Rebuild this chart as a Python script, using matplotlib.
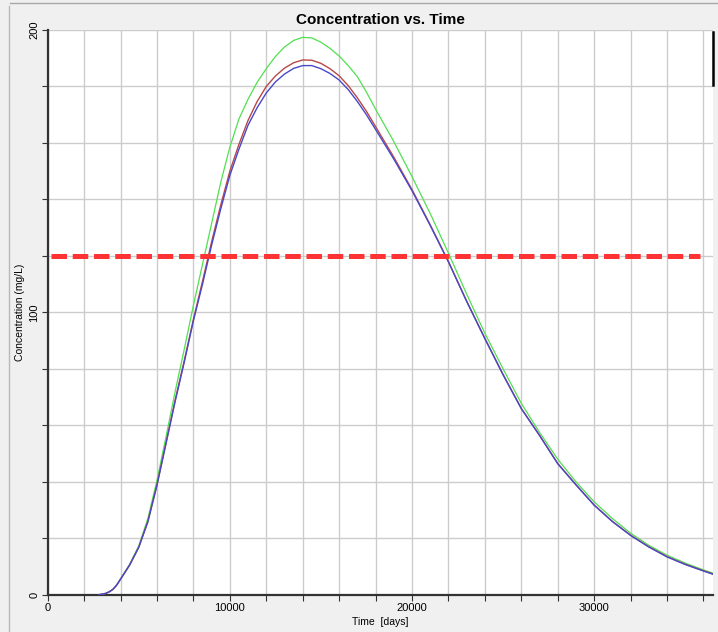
import numpy as np
import matplotlib.pyplot as plt
from matplotlib.lines import Line2D
from matplotlib.ticker import MultipleLocator

plt.rcParams['font.family'] = ['Liberation Sans', 'DejaVu Sans']

# simulated concentration at the observation point, three realizations
time_days = [2800, 3000, 3200, 3400, 3600, 3800, 4000, 4500, 5000, 5500, 6000,
             6500, 7000, 7500, 8000, 8500, 9000, 9500, 10000, 10500, 11000,
             11500, 12000, 12500, 13000, 13500, 14000, 14500, 15000, 15500,
             16000, 16500, 17000, 17500, 18000, 19000, 20000, 21000, 22000,
             23000, 24000, 25000, 26000, 27000, 28000, 29000, 30000, 31000,
             32000, 33000, 34000, 35000, 36000, 36500]

conc_red = [0, 0.2, 0.5, 1.1, 2, 3.5, 5.5, 10.5, 16.8, 26, 39,
            54, 69, 83, 97.5, 111, 125, 138, 150, 159.5, 168,
            174.7, 180, 183.7, 186.5, 188.4, 189.4, 189.3, 188.2, 186.3,
            183.8, 180.3, 176, 171.2, 165.8, 155, 143.5, 131, 118,
            104, 90.8, 78, 66, 56.5, 46.5, 39, 31.8, 26,
            21.1, 17, 13.5, 10.8, 8.5, 7.4]

conc_blue = [0, 0.2, 0.5, 1.1, 2, 3.5, 5.5, 10.5, 16.8, 25.8, 38.7,
             53.6, 68.5, 82.4, 97, 110, 123.8, 136.6, 148.5, 157.8, 166.3,
             172.5, 177.7, 181.6, 184.4, 186.4, 187.4, 187.4, 186.3, 184.6,
             182.3, 178.9, 174.7, 170, 164.8, 154.3, 143.1, 130.8, 117.9,
             103.9, 90.7, 77.9, 65.9, 56.4, 46.4, 38.9, 31.7, 25.9,
             21, 16.9, 13.4, 10.7, 8.4, 7.3]

conc_green = [0, 0.2, 0.5, 1.1, 2, 3.6, 5.6, 10.8, 17.3, 27, 40.5,
              56, 72, 87, 102.5, 117, 131.5, 146, 158.5, 168.5, 175.5,
              181.5, 186.3, 190.6, 194, 196.3, 197.4, 197.2, 195.7, 193.5,
              190.8, 187.4, 183.5, 178, 172, 160.5, 148.1, 135, 121,
              106.5, 92.6, 80, 67.8, 57.5, 48, 40, 32.9, 27,
              21.8, 17.5, 14, 11.2, 8.8, 7.7]

limit_level = 120
limit_span = [200, 35800]

fig = plt.figure(figsize=(7.18, 6.32), dpi=100, facecolor='#f0f0f0')
ax = fig.add_axes([0.0664, 0.059, 0.926, 0.8935])
ax.set_facecolor('white')

ax.plot(time_days, conc_green, color='#50e050', lw=0.9, zorder=3)
ax.plot(time_days, conc_red, color='#b84848', lw=1.0, zorder=4)
ax.plot(time_days, conc_blue, color='#4848c8', lw=1.0, zorder=5)
ax.plot(limit_span, [limit_level, limit_level], color='#ff3333', lw=3.6,
        linestyle=(0, (3.1, 1.15)), solid_capstyle='butt', dash_capstyle='butt',
        zorder=6)

ax.set_xlim(0, 36500)
ax.set_ylim(0, 200)

ax.xaxis.set_major_locator(MultipleLocator(10000))
ax.xaxis.set_minor_locator(MultipleLocator(2000))
ax.yaxis.set_major_locator(MultipleLocator(100))
ax.yaxis.set_minor_locator(MultipleLocator(20))

ax.grid(which='both', color='#cccccc', lw=1.0, zorder=1)
ax.set_axisbelow(True)

ax.tick_params(which='both', direction='out', length=4, width=0.8,
               color='#333333', labelsize=8, pad=2)
for lbl in ax.get_yticklabels():
    lbl.set_rotation(90)
    lbl.set_va('center')

for side in ['top', 'right']:
    ax.spines[side].set_visible(False)
for side in ['left', 'bottom']:
    ax.spines[side].set_color('#333333')
    ax.spines[side].set_linewidth(1.6)

ax.set_title('Concentration vs. Time', fontsize=11, fontweight='bold', pad=4)
ax.set_xlabel('Time  [days]', fontsize=7.5, labelpad=3)
ax.set_ylabel('Concentration (mg/L)', fontsize=7.5, labelpad=3)

# window frame pieces around the plot
fig.add_artist(Line2D([0.9926, 0.9926], [0.865, 0.950], color='black', lw=1.8,
                      transform=fig.transFigure))
fig.add_artist(Line2D([0.014, 1.0], [0.995, 0.995], color='#a8a8a8', lw=1.0,
                      transform=fig.transFigure))
fig.add_artist(Line2D([0.012, 0.012], [0.0, 0.99], color='#b8b8b8', lw=1.0,
                      transform=fig.transFigure))

fig.savefig('out.png', dpi=100, facecolor=fig.get_facecolor())
